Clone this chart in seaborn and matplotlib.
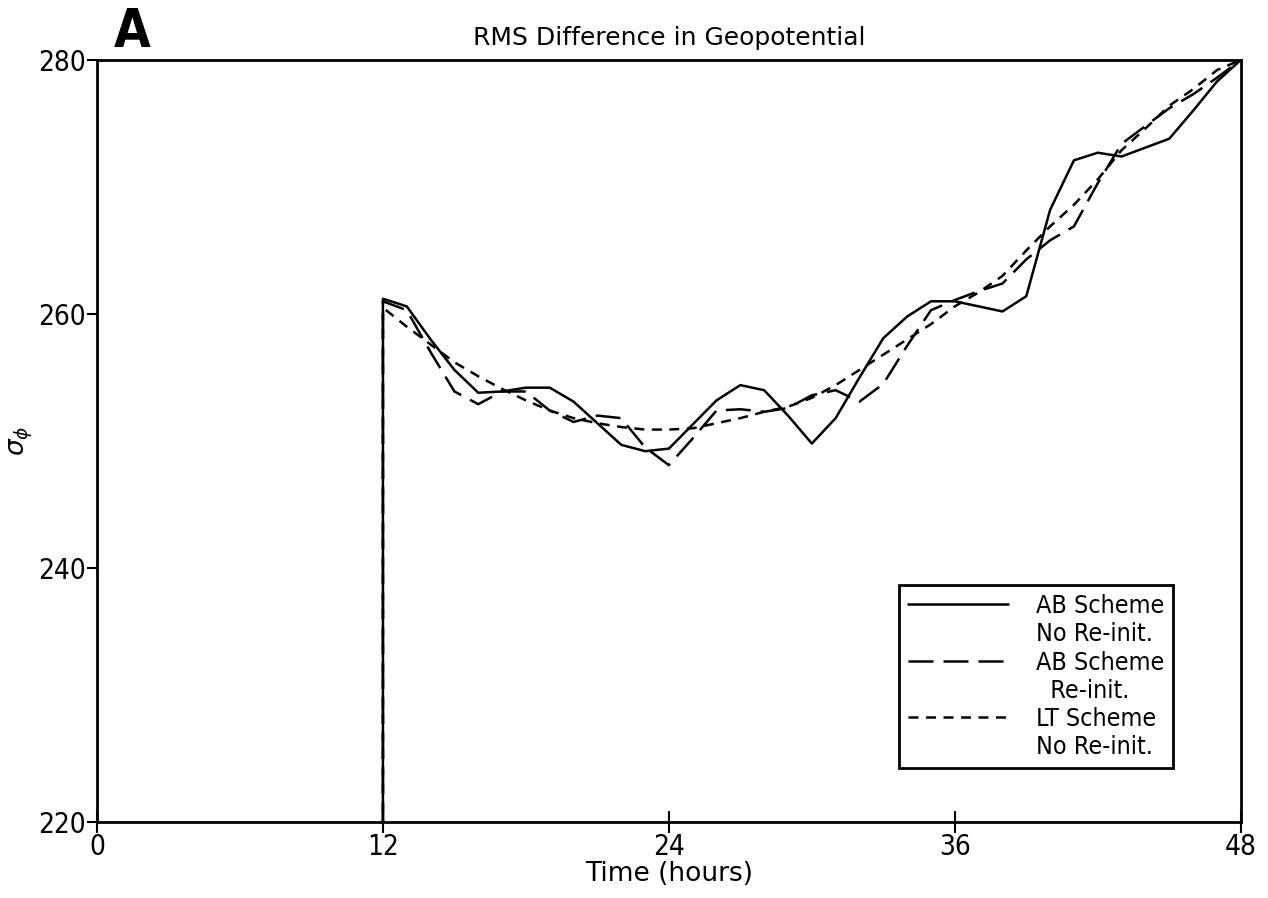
import numpy as np
import pandas as pd
import seaborn as sns
import matplotlib
matplotlib.use('Agg')
import matplotlib.pyplot as plt
from matplotlib.lines import Line2D

# hours, first point repeated so the curves rise straight up at t=12
hours = [12] + list(range(12, 49))

ab_no_reinit = [0, 261.2, 260.6, 258.0, 255.6, 253.8, 253.9, 254.2, 254.2, 253.1, 251.4,
                249.7, 249.2, 249.4, 251.3, 253.2, 254.4, 254.0, 252.0, 249.8, 251.8,
                255.0, 258.1, 259.8, 261.0, 261.0, 260.6, 260.2, 261.4, 268.2, 272.1,
                272.7, 272.4, 273.1, 273.8, 276.0, 278.3, 280.0]
ab_reinit = [0, 261.0, 260.3, 257.0, 253.9, 252.9, 253.9, 253.9, 252.4, 251.5, 252.0,
             251.8, 249.5, 248.1, 250.2, 252.4, 252.5, 252.3, 252.6, 253.6, 254.0,
             253.1, 254.5, 257.5, 260.3, 261.1, 261.8, 262.4, 264.3, 265.8, 266.9,
             270.3, 273.4, 274.8, 276.2, 277.3, 278.6, 280.0]
lt_no_reinit = [0, 260.5, 259.0, 257.6, 256.2, 255.1, 254.1, 253.2, 252.4, 251.8, 251.4,
                251.1, 250.9, 250.9, 251.0, 251.4, 251.8, 252.3, 252.7, 253.4, 254.4,
                255.6, 256.8, 258.0, 259.2, 260.6, 261.7, 263.0, 265.0, 266.9, 268.6,
                270.6, 272.9, 274.6, 276.4, 277.7, 279.2, 280.0]

xticks = [0, 12, 24, 36, 48]
yticks = [220, 240, 260, 280]

sns.set_style('ticks', {'text.color': 'black', 'axes.labelcolor': 'black',
                        'xtick.color': 'black', 'ytick.color': 'black',
                        'axes.edgecolor': 'black'})
plt.rcParams['font.family'] = ['DejaVu Sans']

fig = plt.figure(figsize=(12.68, 8.98), dpi=100)
ax = fig.add_axes([0.0765, 0.0846, 0.902, 0.8486])

styles = [(ab_no_reinit, '-'), (ab_reinit, (0, (10, 4))), (lt_no_reinit, (0, (4, 3)))]
handles = []
for vals, ls in styles:
    sns.lineplot(x=hours, y=vals, ax=ax, color='black', linewidth=1.8,
                 linestyle=ls, estimator=None, sort=False)
    handles.append(Line2D([], [], color='black', linewidth=1.8, linestyle=ls))

ax.set_xlim(0, 48)
ax.set_ylim(220, 280)
ax.set_xticks(xticks)
ax.set_yticks(yticks)
ax.tick_params(axis='x', direction='inout', length=16, width=1.5, labelsize=20, pad=0)
ax.tick_params(axis='y', direction='out', length=7, width=1.5, labelsize=20, pad=1)
for lab in ax.get_xticklabels() + ax.get_yticklabels():
    lab.set_fontstretch('condensed')
for s in ax.spines.values():
    s.set_linewidth(2)

ax.set_title('RMS Difference in Geopotential', fontsize=18, pad=11)
ax.set_xlabel('Time (hours)', fontsize=19, labelpad=0)
ax.set_ylabel(r'$\sigma_\phi$', fontsize=19, labelpad=2)
fig.text(0.104, 0.9477, 'A', fontsize=38, fontweight='heavy', fontstretch='condensed',
         va='baseline', ha='center')

blank = Line2D([], [], linestyle='none')
leg = ax.legend([handles[0], blank, handles[1], blank, handles[2], blank],
                ['AB Scheme', 'No Re-init.', 'AB Scheme', '  Re-init.', 'LT Scheme', 'No Re-init.'],
                loc='lower right', bbox_to_anchor=(0.9406, 0.0709), borderaxespad=0,
                prop={'size': 18, 'stretch': 'condensed'},
                handlelength=4.0, handletextpad=1.1, labelspacing=0.17,
                frameon=True, fancybox=False, framealpha=1, edgecolor='black',
                borderpad=0.35)
leg.get_frame().set_linewidth(2)

fig.savefig('out.png', dpi=100, facecolor='white')
